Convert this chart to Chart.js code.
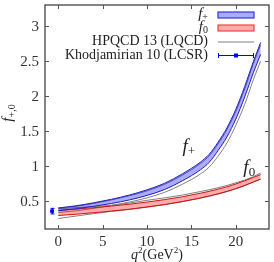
<!DOCTYPE html>
<html>
<head>
<meta charset="utf-8">
<script src="https://cdn.jsdelivr.net/npm/chart.js@4"></script>
<style>
  html, body { margin: 0; padding: 0; background: #fff; }
  #wrap { width: 274px; height: 262px; }
</style>
</head>
<body>
<div id="wrap"><canvas id="chart"></canvas></div>
<script>
// q^2 grid (GeV^2)
const q2 = [0, 2, 4, 6, 8, 10, 12, 14, 16, 17, 18, 19, 20, 21, 22, 22.8];

// this work: f+ band (blue) and f0 band (red)
const fPlusHi = [0.40, 0.432, 0.475, 0.525, 0.585, 0.66, 0.755, 0.89, 1.055, 1.168, 1.34, 1.545, 1.81, 2.135, 2.50, 2.765];
const fPlusLo = [0.36, 0.388, 0.425, 0.465, 0.515, 0.58, 0.665, 0.79, 0.945, 1.052, 1.22, 1.415, 1.67, 1.985, 2.34, 2.595];
const fZeroHi = [0.367, 0.385, 0.405, 0.428, 0.454, 0.485, 0.52, 0.561, 0.611, 0.638, 0.669, 0.703, 0.743, 0.788, 0.837, 0.877];
const fZeroLo = [0.293, 0.311, 0.333, 0.356, 0.382, 0.415, 0.45, 0.493, 0.543, 0.572, 0.603, 0.637, 0.677, 0.722, 0.773, 0.813];

// HPQCD 13 (LQCD) band edges
const hpPlusHi = [0.40, 0.425, 0.465, 0.515, 0.575, 0.645, 0.74, 0.87, 1.035, 1.145, 1.315, 1.52, 1.78, 2.10, 2.47, 2.73];
const hpPlusLo = [0.335, 0.36, 0.395, 0.435, 0.485, 0.545, 0.625, 0.74, 0.885, 0.985, 1.14, 1.33, 1.58, 1.88, 2.24, 2.50];
const hpZeroHi = [0.39, 0.405, 0.42, 0.44, 0.47, 0.51, 0.545, 0.585, 0.635, 0.66, 0.69, 0.722, 0.76, 0.80, 0.85, 0.90];
const hpZeroLo = [0.25, 0.285, 0.32, 0.352, 0.38, 0.412, 0.448, 0.49, 0.54, 0.568, 0.60, 0.634, 0.674, 0.72, 0.77, 0.812];

// Khodjamirian 10 (LCSR) point, drawn slightly left of q^2 = 0
const lcsrX = [-0.7];
const lcsrY = [0.355];
const lcsrHi = [0.395];
const lcsrLo = [0.315];

// axis ticks
const xTicks = [0, 5, 10, 15, 20];
const yTicks = [0.5, 1, 1.5, 2, 2.5, 3];

const SERIF = '"Liberation Serif", "DejaVu Serif", serif';
const BLUE_EDGE = '#2424b8';
const RED_EDGE = '#cc1414';
const BLUE_FILL = 'rgba(0,0,255,0.33)';
const RED_FILL = 'rgba(255,0,0,0.33)';
const GREY = '#808080';

const pts = (ys) => q2.map((x, i) => ({ x: x, y: ys[i] }));

function line(label, ys, color, extra) {
  return Object.assign({
    label: label,
    data: pts(ys),
    borderColor: color,
    borderWidth: 1,
    pointRadius: 0,
    fill: false,
    cubicInterpolationMode: 'monotone'
  }, extra || {});
}

// draw text made of pieces: [text, size, italic, dy]
function mathText(c, parts, x, y, align) {
  const fnt = (p) => (p[2] ? 'italic ' : '') + p[1] + 'px ' + SERIF;
  let w = 0;
  parts.forEach(p => { c.font = fnt(p); w += c.measureText(p[0]).width; });
  let cx = align === 'right' ? x - w : align === 'center' ? x - w / 2 : x;
  c.textAlign = 'left';
  parts.forEach(p => {
    c.font = fnt(p);
    c.fillText(p[0], cx, y + (p[3] || 0));
    cx += c.measureText(p[0]).width;
  });
}

const decorations = {
  id: 'decorations',
  afterDatasetsDraw(chart) {
    const c = chart.ctx;
    const a = chart.chartArea;
    const xs = chart.scales.x, ys = chart.scales.y;
    c.save();

    // error bar of the LCSR point
    c.strokeStyle = '#0000ff';
    c.lineWidth = 1;
    lcsrX.forEach((v, i) => {
      const px = Math.round(xs.getPixelForValue(v)) + 0.5;
      const top = ys.getPixelForValue(lcsrHi[i]);
      const bot = ys.getPixelForValue(lcsrLo[i]);
      c.beginPath();
      c.moveTo(px, top); c.lineTo(px, bot);
      c.moveTo(px - 2, top); c.lineTo(px + 2, top);
      c.moveTo(px - 2, bot); c.lineTo(px + 2, bot);
      c.stroke();
    });

    // frame
    c.strokeStyle = '#444';
    c.lineWidth = 1.3;
    c.strokeRect(a.left, a.top, a.right - a.left, a.bottom - a.top);

    // inward ticks on all four sides
    c.lineWidth = 1;
    c.strokeStyle = '#555';
    c.beginPath();
    xTicks.forEach(v => {
      const px = Math.round(xs.getPixelForValue(v)) + 0.5;
      c.moveTo(px, a.bottom); c.lineTo(px, a.bottom - 4);
      c.moveTo(px, a.top); c.lineTo(px, a.top + 4);
    });
    yTicks.forEach(v => {
      const py = Math.round(ys.getPixelForValue(v)) + 0.5;
      c.moveTo(a.left, py); c.lineTo(a.left + 4, py);
      c.moveTo(a.right, py); c.lineTo(a.right - 4, py);
    });
    c.stroke();

    // tick labels
    c.fillStyle = '#333';
    c.font = '15px ' + SERIF;
    c.textBaseline = 'middle';
    c.textAlign = 'right';
    yTicks.forEach(v => c.fillText(String(v), a.left - 6, ys.getPixelForValue(v) + 1));
    c.textAlign = 'center';
    xTicks.forEach(v => c.fillText(String(v), xs.getPixelForValue(v), a.bottom + 13));

    // curve labels
    c.fillStyle = '#222';
    c.textBaseline = 'alphabetic';
    mathText(c, [['f', 19, true], ['+', 13, false, 3]], xs.getPixelForValue(14.0), ys.getPixelForValue(1.2), 'left');
    mathText(c, [['f', 19, true], ['0', 13, false, 3]], xs.getPixelForValue(20.85), ys.getPixelForValue(0.9), 'left');

    // legend (text right-aligned, sample on the right)
    const tx = a.right - 61, s0 = a.right - 51, s1 = a.right - 15;
    const rows = [a.top + 10, a.top + 23, a.top + 36.5, a.top + 50];
    c.textBaseline = 'middle';
    c.fillStyle = '#222';
    mathText(c, [['f', 15, true], ['+', 10, false, 3]], tx, rows[0] - 1, 'right');
    mathText(c, [['f', 15, true], ['0', 10, false, 3]], tx, rows[1] - 1, 'right');
    mathText(c, [['HPQCD 13 (LQCD)', 14, false]], tx, rows[2], 'right');
    mathText(c, [['Khodjamirian 10 (LCSR)', 14, false]], tx, rows[3], 'right');

    c.fillStyle = BLUE_FILL; c.strokeStyle = '#3434e0'; c.lineWidth = 1.2;
    c.fillRect(s0, rows[0] - 3, s1 - s0, 6); c.strokeRect(s0, rows[0] - 3, s1 - s0, 6);
    c.fillStyle = RED_FILL; c.strokeStyle = '#ee4444';
    c.fillRect(s0, rows[1] - 3, s1 - s0, 6); c.strokeRect(s0, rows[1] - 3, s1 - s0, 6);
    c.strokeStyle = GREY; c.lineWidth = 1;
    c.beginPath(); c.moveTo(s0, rows[2] + 0.5); c.lineTo(s1, rows[2] + 0.5); c.stroke();
    c.strokeStyle = '#0000ff';
    c.beginPath();
    c.moveTo(s0, rows[3] + 0.5); c.lineTo(s1, rows[3] + 0.5);
    c.moveTo(s0 + 0.5, rows[3] - 2); c.lineTo(s0 + 0.5, rows[3] + 3);
    c.moveTo(s1 - 0.5, rows[3] - 2); c.lineTo(s1 - 0.5, rows[3] + 3);
    c.stroke();
    c.fillStyle = '#0000ff';
    c.fillRect((s0 + s1) / 2 - 2, rows[3] - 1.5, 4, 4);

    // axis titles
    c.fillStyle = '#222';
    c.textBaseline = 'alphabetic';
    mathText(c, [['q', 14, true], ['2', 9, false, -6], ['(GeV', 14, false], ['2', 9, false, -6], [')', 14, false]],
      (a.left + a.right) / 2, 259, 'center');
    c.translate(12, (a.top + a.bottom) / 2 - 4);
    c.rotate(-Math.PI / 2);
    mathText(c, [['f', 15, true], ['+,0', 10, false, 3]], 0, 0, 'center');
    c.restore();
  }
};

new Chart(document.getElementById('chart'), {
  type: 'line',
  data: {
    datasets: [
      line('f+', fPlusHi, BLUE_EDGE, { fill: '+1', backgroundColor: BLUE_FILL, order: 1 }),
      line('f+ low', fPlusLo, BLUE_EDGE, { order: 1 }),
      line('f0', fZeroHi, RED_EDGE, { fill: '+1', backgroundColor: RED_FILL, order: 1 }),
      line('f0 low', fZeroLo, RED_EDGE, { order: 1 }),
      line('HPQCD 13 (LQCD)', hpPlusHi, GREY, { order: 2 }),
      line('HPQCD f+ low', hpPlusLo, GREY, { order: 2 }),
      line('HPQCD f0 high', hpZeroHi, GREY, { order: 2 }),
      line('HPQCD f0 low', hpZeroLo, GREY, { order: 2 }),
      {
        label: 'Khodjamirian 10 (LCSR)',
        data: lcsrX.map((x, i) => ({ x: x, y: lcsrY[i] })),
        showLine: false,
        pointStyle: 'rect',
        pointRadius: 2,
        backgroundColor: '#0000ff',
        borderColor: '#0000ff',
        order: 0
      }
    ]
  },
  options: {
    responsive: true,
    maintainAspectRatio: false,
    animation: false,
    devicePixelRatio: 1,
    layout: { padding: { top: 1, right: 1, left: 0, bottom: 0 } },
    plugins: { legend: { display: false }, tooltip: { enabled: false } },
    scales: {
      x: {
        type: 'linear',
        min: -1.5,
        max: 23.74,
        grid: { display: false, drawTicks: false },
        border: { display: false },
        ticks: { display: false },
        afterBuildTicks: (s) => { s.ticks = xTicks.map(v => ({ value: v })); },
        afterFit: (s) => { s.height = 33; }
      },
      y: {
        type: 'linear',
        min: 0.1,
        max: 3.3,
        grid: { display: false, drawTicks: false },
        border: { display: false },
        ticks: { display: false },
        afterBuildTicks: (s) => { s.ticks = yTicks.map(v => ({ value: v })); },
        afterFit: (s) => { s.width = 45; }
      }
    }
  },
  plugins: [decorations]
});
</script>
</body>
</html>
